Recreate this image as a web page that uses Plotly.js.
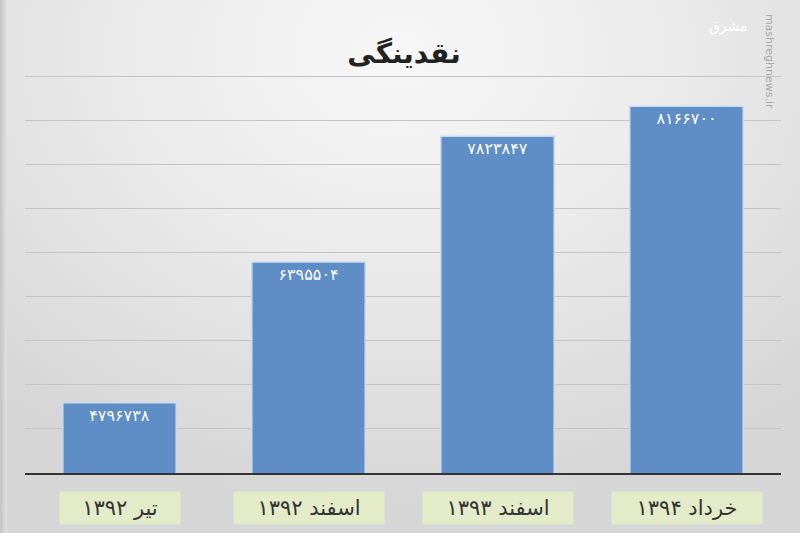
<!DOCTYPE html>
<html>
<head>
<meta charset="utf-8">
<script src="https://cdn.plot.ly/plotly-3.0.1.min.js"></script>
<style>
html,body{margin:0;padding:0;}
body{width:800px;height:533px;overflow:hidden;
background: radial-gradient(ellipse 75% 85% at 50% 10%, #f7f7f7 0%, #ebebeb 45%, #d6d6d6 100%);}
#frame{position:absolute;left:0;top:0;width:7px;height:533px;background:linear-gradient(to right,#c4c4c4,#e2e2e2);}
#chart{position:absolute;left:0;top:0;width:800px;height:533px;}
</style>
</head>
<body>
<div id="frame"></div>
<div id="chart"></div>
<script>
const categories = ['تیر ۱۳۹۲', 'اسفند ۱۳۹۲', 'اسفند ۱۳۹۳', 'خرداد ۱۳۹۴'];
const values = [4796738, 6395504, 7823847, 8166700];
const valueLabels = ['۴۷۹۶۷۳۸', '۶۳۹۵۵۰۴', '۷۸۲۳۸۴۷', '۸۱۶۶۷۰۰'];
const chartTitle = 'نقدینگی';

const trace = {
  type: 'bar',
  x: categories,
  y: values,
  text: valueLabels,
  textposition: 'inside',
  insidetextanchor: 'end',
  textangle: 0,
  textfont: {family: 'DejaVu Sans', size: 16, color: '#ffffff'},
  marker: {color: '#5f8dc5', line: {color: '#c9dcf2', width: 1.5}},
  hoverinfo: 'none',
  cliponaxis: false
};

const annotations = categories.map(c => ({
  x: c, xref: 'x', y: 0, yref: 'paper', yanchor: 'middle', yshift: -35,
  text: c, showarrow: false,
  width: 15 * c.length - 4, height: 28,
  font: {family: 'DejaVu Sans', size: 21, color: '#333333'},
  bgcolor: '#e3ebc9', borderpad: 2
}));
annotations.push({
  x: 0.985, xref: 'paper', y: 0.99, yref: 'paper', xanchor: 'center', yanchor: 'top',
  text: 'mashreghnews.ir', textangle: 90, showarrow: false, yshift: 60,
  font: {family: 'DejaVu Sans', size: 11, color: '#a8a8a8'}
});
annotations.push({
  x: 0.93, xref: 'paper', y: 1, yref: 'paper', xanchor: 'center', yanchor: 'middle',
  text: 'مشرق', showarrow: false, yshift: 42,
  font: {family: 'DejaVu Sans', size: 14, color: '#ffffff'}
});

const layout = {
  width: 800, height: 533,
  margin: {l: 25, r: 19, t: 68, b: 60},
  paper_bgcolor: 'rgba(0,0,0,0)',
  plot_bgcolor: 'rgba(0,0,0,0)',
  title: {text: '<b>' + chartTitle + '</b>', x: 0.505, xanchor: 'center', y: 0.9, yanchor: 'middle',
          font: {family: 'DejaVu Sans', size: 28, color: '#222222'}},
  bargap: 0.4,
  showlegend: false,
  xaxis: {showticklabels: false, ticks: '', showline: true, linecolor: '#333333', linewidth: 2,
          showgrid: false, zeroline: false},
  yaxis: {range: [4000000, 8600000], dtick: 500000, tick0: 4000000, showticklabels: false, ticks: '',
          showgrid: true, gridcolor: '#c4c4c4', gridwidth: 1, zeroline: false, showline: false},
  annotations: annotations
};

Plotly.newPlot('chart', [trace], layout, {displayModeBar: false, staticPlot: true});
</script>
</body>
</html>
